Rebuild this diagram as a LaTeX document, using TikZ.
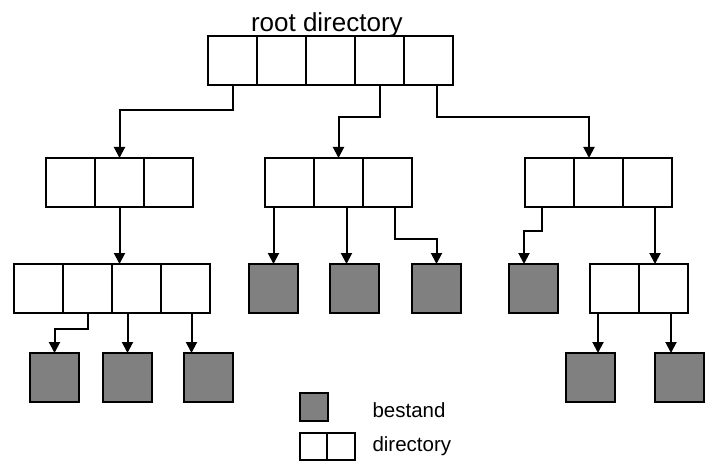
\documentclass[tikz,border=0pt]{standalone}
\usepackage{fontspec}
\setmainfont{Liberation Sans}
\usetikzlibrary{arrows.meta}
\definecolor{filegray}{HTML}{808080}
\begin{document}
\begin{tikzpicture}[x=1pt,y=-1pt,
  cell/.style={draw, line width=2pt, minimum width=49pt, minimum height=49pt, inner sep=0pt, outer sep=0pt},
  filebox/.style={cell, fill=filegray},
  legcell/.style={cell, minimum width=27.5pt, minimum height=27.5pt},
  legfile/.style={legcell, fill=filegray},
  link/.style={line width=2pt, -{Triangle[width=11pt,length=11pt]}},
  label/.style={anchor=base west, inner sep=0pt, outer sep=0pt}]
\useasboundingbox (0,0) rectangle (717,473);
% root
\node[label, font=\fontsize{26}{30}\selectfont] (title) at (251,32) {root directory};
\node[cell] (r1) at (232.5,60.5) {};
\node[cell] (r2) at (281.5,60.5) {};
\node[cell] (r3) at (330.5,60.5) {};
\node[cell] (r4) at (379.5,60.5) {};
\node[cell] (r5) at (428.5,60.5) {};
% level 1
\node[cell] (a1) at (70.5,182.5) {};
\node[cell] (a2) at (119.5,182.5) {};
\node[cell] (a3) at (168.5,182.5) {};
\node[cell] (b1) at (289.5,182.5) {};
\node[cell] (b2) at (338.5,182.5) {};
\node[cell] (b3) at (387.5,182.5) {};
\node[cell] (c1) at (549.5,182.5) {};
\node[cell] (c2) at (598.5,182.5) {};
\node[cell] (c3) at (647.5,182.5) {};
% level 2
\node[cell] (d1) at (38.5,288.5) {};
\node[cell] (d2) at (87.5,288.5) {};
\node[cell] (d3) at (136.5,288.5) {};
\node[cell] (d4) at (185.5,288.5) {};
\node[filebox] (g1) at (273.5,288.5) {};
\node[filebox] (g2) at (354.5,288.5) {};
\node[filebox] (g3) at (436.5,288.5) {};
\node[filebox] (g4) at (533.5,288.5) {};
\node[cell] (e1) at (614.5,288.5) {};
\node[cell] (e2) at (663.5,288.5) {};
% level 3
\node[filebox] (g5) at (54.5,377.5) {};
\node[filebox] (g6) at (127.5,377.5) {};
\node[filebox] (g7) at (208.5,377.5) {};
\node[filebox] (g8) at (590.5,377.5) {};
\node[filebox] (g9) at (679.5,377.5) {};
% legend
\node[legfile] (lf) at (314,407) {};
\node[legcell] (ld1) at (313.5,446.5) {};
\node[legcell] (ld2) at (341,446.5) {};
\node[label, font=\fontsize{20.5}{24}\selectfont] (tb) at (372.5,417) {bestand};
\node[label, font=\fontsize{20.5}{24}\selectfont] (td) at (372.5,451.5) {directory};
% connectors from root
\draw[link] (r1.south) -- ++(0,25) -| (a2.north);
\draw[link] (r4.south) -- ++(0,32) -| (b2.north);
\draw[link] ([xshift=8pt]r5.south) -- ++(0,32) -| ([xshift=-9.5pt]c2.north);
% from A
\draw[link] (a2.south) -- (a2.south |- d3.north);
% from D
\draw[link] (d2.south) -- ++(0,16) -| (g5.north);
\draw[link] (g6.north |- d3.south) -- (g6.north);
\draw[link] ([xshift=6pt]d4.south) -- ([xshift=-17pt]g7.north);
% from B
\draw[link] (g1.north |- b1.south) -- (g1.north);
\draw[link] ([xshift=8pt]b2.south) -- ([xshift=-8pt]g2.north);
\draw[link] ([xshift=7pt]b3.south) -- ++(0,32) -| (g3.north);
% from C
\draw[link] ([xshift=-7.5pt]c1.south) -- ++(0,24) -| ([xshift=-9.5pt]g4.north);
\draw[link] ([xshift=7.5pt]c3.south) -- ([xshift=-8.5pt]e2.north);
% from E
\draw[link] ([xshift=-16.5pt]e1.south) -- ([xshift=7.5pt]g8.north);
\draw[link] ([xshift=7.5pt]e2.south) -- ([xshift=-8.5pt]g9.north);
\end{tikzpicture}
\end{document}
